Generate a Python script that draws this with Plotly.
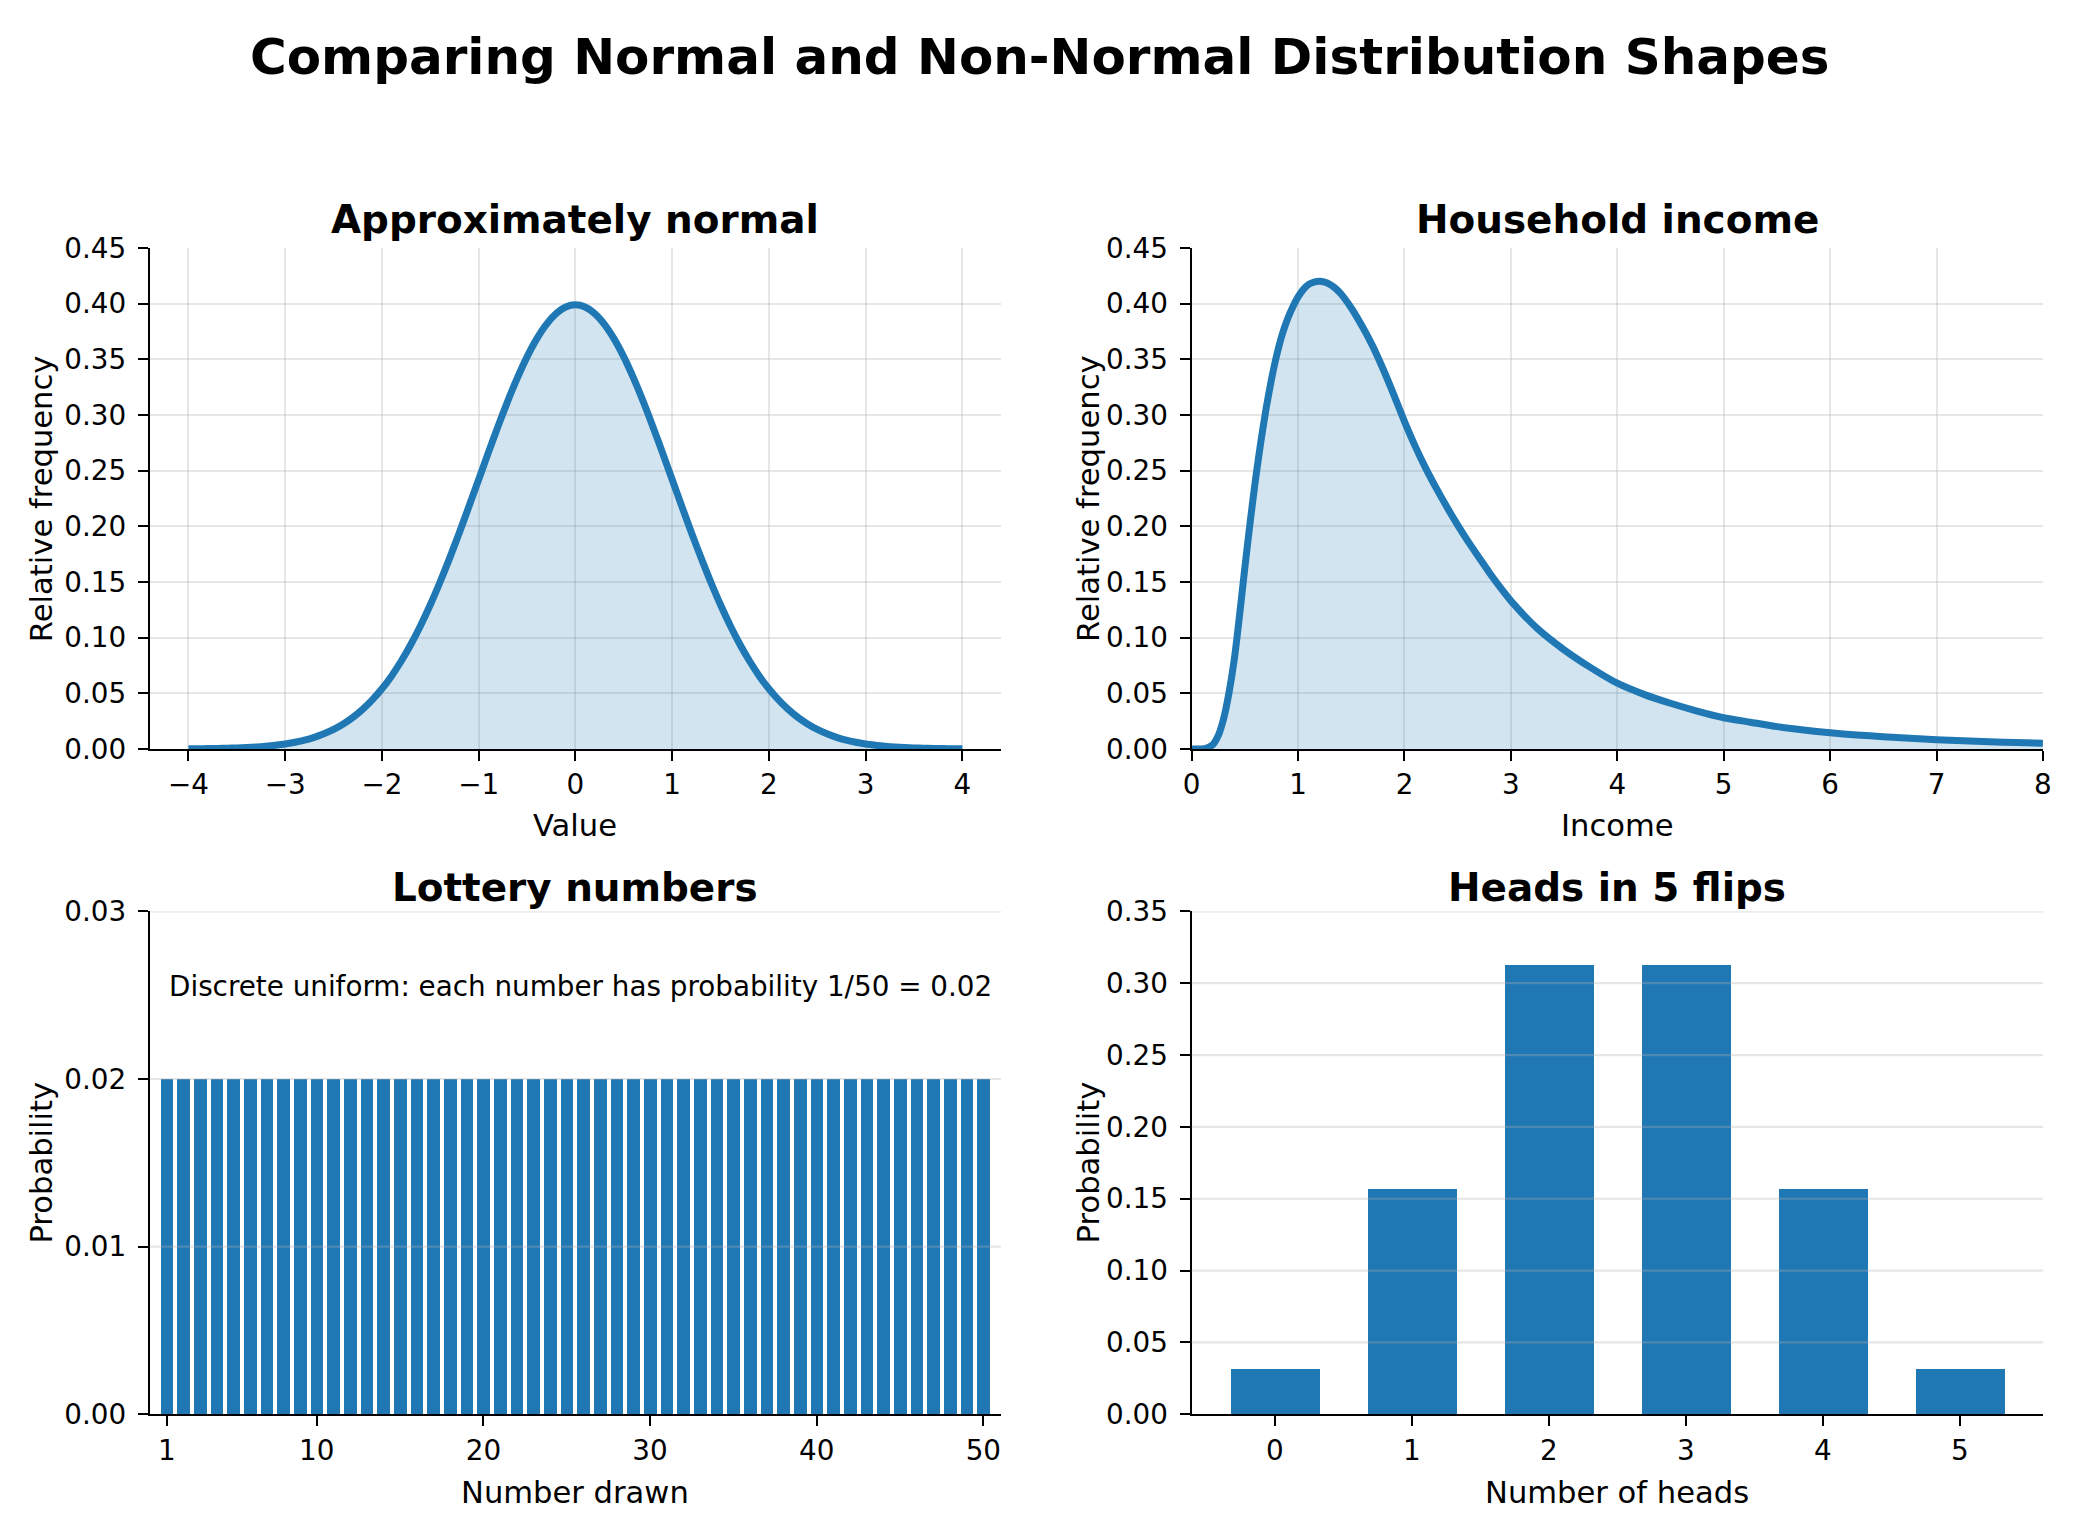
import plotly.graph_objects as go

W, H = 2079, 1537

# ---------------- data ----------------
normal_x = [-4.0, -3.9, -3.8, -3.7, -3.6, -3.5, -3.4, -3.3, -3.2, -3.1,
            -3.0, -2.9, -2.8, -2.7, -2.6, -2.5, -2.4, -2.3, -2.2, -2.1,
            -2.0, -1.9, -1.8, -1.7, -1.6, -1.5, -1.4, -1.3, -1.2, -1.1,
            -1.0, -0.9, -0.8, -0.7, -0.6, -0.5, -0.4, -0.3, -0.2, -0.1,
            0.0, 0.1, 0.2, 0.3, 0.4, 0.5, 0.6, 0.7, 0.8, 0.9,
            1.0, 1.1, 1.2, 1.3, 1.4, 1.5, 1.6, 1.7, 1.8, 1.9,
            2.0, 2.1, 2.2, 2.3, 2.4, 2.5, 2.6, 2.7, 2.8, 2.9,
            3.0, 3.1, 3.2, 3.3, 3.4, 3.5, 3.6, 3.7, 3.8, 3.9, 4.0]
normal_y = [0.0001, 0.0002, 0.0003, 0.0004, 0.0006, 0.0009, 0.0012, 0.0017, 0.0024, 0.0033,
            0.0044, 0.0060, 0.0079, 0.0104, 0.0136, 0.0175, 0.0224, 0.0283, 0.0355, 0.0440,
            0.0540, 0.0656, 0.0790, 0.0940, 0.1109, 0.1295, 0.1497, 0.1714, 0.1942, 0.2179,
            0.2420, 0.2661, 0.2897, 0.3123, 0.3332, 0.3521, 0.3683, 0.3814, 0.3910, 0.3970,
            0.3989, 0.3970, 0.3910, 0.3814, 0.3683, 0.3521, 0.3332, 0.3123, 0.2897, 0.2661,
            0.2420, 0.2179, 0.1942, 0.1714, 0.1497, 0.1295, 0.1109, 0.0940, 0.0790, 0.0656,
            0.0540, 0.0440, 0.0355, 0.0283, 0.0224, 0.0175, 0.0136, 0.0104, 0.0079, 0.0060,
            0.0044, 0.0033, 0.0024, 0.0017, 0.0012, 0.0009, 0.0006, 0.0004, 0.0003, 0.0002, 0.0001]

income_x = [0.0, 0.05, 0.1, 0.15, 0.2, 0.25, 0.3, 0.35, 0.4, 0.45, 0.5, 0.55, 0.6, 0.65,
            0.7, 0.75, 0.8, 0.85, 0.9, 0.95, 1.0, 1.05, 1.1, 1.15, 1.2, 1.25, 1.3, 1.35,
            1.4, 1.5, 1.6, 1.7, 1.8, 1.9, 2.0, 2.1, 2.2, 2.3, 2.4, 2.5, 2.6, 2.7, 2.8,
            2.9, 3.0, 3.25, 3.5, 3.75, 4.0, 4.25, 4.5, 4.75, 5.0, 5.25, 5.5, 5.75, 6.0,
            6.25, 6.5, 6.75, 7.0, 7.25, 7.5, 7.75, 8.0]
income_y = [0.000, 0.000, 0.000, 0.001, 0.004, 0.012, 0.027, 0.050, 0.080, 0.120, 0.163,
            0.204, 0.242, 0.276, 0.306, 0.332, 0.354, 0.372, 0.386, 0.397, 0.406, 0.4128,
            0.4172, 0.4193, 0.420, 0.4193, 0.4172, 0.4138, 0.409, 0.396, 0.380, 0.362, 0.341,
            0.318, 0.294, 0.272, 0.252, 0.234, 0.217, 0.201, 0.186, 0.172, 0.158, 0.145,
            0.133, 0.108, 0.089, 0.073, 0.059, 0.049, 0.041, 0.034, 0.028, 0.024, 0.020,
            0.017, 0.0145, 0.0125, 0.011, 0.0095, 0.0083, 0.0073, 0.0064, 0.0057, 0.0050]

lottery_numbers = [1, 2, 3, 4, 5, 6, 7, 8, 9, 10, 11, 12, 13, 14, 15, 16, 17, 18, 19, 20,
                   21, 22, 23, 24, 25, 26, 27, 28, 29, 30, 31, 32, 33, 34, 35, 36, 37, 38,
                   39, 40, 41, 42, 43, 44, 45, 46, 47, 48, 49, 50]
lottery_prob = [0.02, 0.02, 0.02, 0.02, 0.02, 0.02, 0.02, 0.02, 0.02, 0.02,
                0.02, 0.02, 0.02, 0.02, 0.02, 0.02, 0.02, 0.02, 0.02, 0.02,
                0.02, 0.02, 0.02, 0.02, 0.02, 0.02, 0.02, 0.02, 0.02, 0.02,
                0.02, 0.02, 0.02, 0.02, 0.02, 0.02, 0.02, 0.02, 0.02, 0.02,
                0.02, 0.02, 0.02, 0.02, 0.02, 0.02, 0.02, 0.02, 0.02, 0.02]

heads = [0, 1, 2, 3, 4, 5]
heads_prob = [0.03125, 0.15625, 0.3125, 0.3125, 0.15625, 0.03125]

# tick labels
normal_ticks = [-4, -3, -2, -1, 0, 1, 2, 3, 4]
normal_ticktext = ["\u22124", "\u22123", "\u22122", "\u22121", "0", "1", "2", "3", "4"]
income_ticks = [0, 1, 2, 3, 4, 5, 6, 7, 8]
density_yticks = [0.0, 0.05, 0.10, 0.15, 0.20, 0.25, 0.30, 0.35, 0.40, 0.45]
lottery_xticks = [1, 10, 20, 30, 40, 50]
lottery_yticks = [0.0, 0.01, 0.02, 0.03]
heads_yticks = [0.0, 0.05, 0.10, 0.15, 0.20, 0.25, 0.30, 0.35]

main_title = "Comparing Normal and Non-Normal Distribution Shapes"
titles = ["Approximately normal", "Household income", "Lottery numbers", "Heads in 5 flips"]
xlabels = ["Value", "Income", "Number drawn", "Number of heads"]
ylabels = ["Relative frequency", "Relative frequency", "Probability", "Probability"]
note_text = "Discrete uniform: each number has probability 1/50 = 0.02"

# ---------------- styling ----------------
BLUE = "#1f77b4"
FILL = "rgba(31,119,180,0.2)"
GRID = "rgba(176,176,176,0.32)"
FONT = "DejaVu Sans"
TICK = 27.8
LAB = 30.6
TTL = 38.9


def px_x(p):
    return p / W


def px_y(p):
    return 1 - p / H


XL = [px_x(142), px_x(1000.7)]
XR = [px_x(1193), px_x(2051.7)]
YT = [px_y(749), px_y(237)]
YB = [px_y(1429), px_y(915)]

fig = go.Figure()

fig.add_trace(go.Scatter(x=normal_x, y=normal_y, mode="lines", fill="tozeroy",
                         fillcolor=FILL, line=dict(color=BLUE, width=7, shape="spline", smoothing=0.6),
                         xaxis="x", yaxis="y", showlegend=False, hoverinfo="skip"))
fig.add_trace(go.Scatter(x=income_x, y=income_y, mode="lines", fill="tozeroy",
                         fillcolor=FILL, line=dict(color=BLUE, width=7, shape="spline", smoothing=0.6),
                         xaxis="x2", yaxis="y2", showlegend=False, hoverinfo="skip"))
fig.add_trace(go.Bar(x=lottery_numbers, y=lottery_prob, width=0.76, marker=dict(color=BLUE, line=dict(width=0)),
                     xaxis="x3", yaxis="y3", showlegend=False, hoverinfo="skip"))
fig.add_trace(go.Bar(x=heads, y=heads_prob, width=0.65, marker=dict(color=BLUE, line=dict(width=0)),
                     xaxis="x4", yaxis="y4", showlegend=False, hoverinfo="skip"))


def axis(domain, rng, anchor, grid, tickvals=None, ticktext=None, standoff=0):
    d = dict(domain=domain, range=rng, anchor=anchor, showline=True, linecolor="black",
             linewidth=2.2, ticks="outside", ticklen=10, tickwidth=2.2, tickcolor="black",
             tickfont=dict(family=FONT, size=TICK, color="black"), zeroline=False,
             showgrid=grid, gridcolor=GRID, gridwidth=2.2, ticklabelstandoff=standoff,
             fixedrange=True)
    if tickvals is not None:
        d["tickmode"] = "array"
        d["tickvals"] = tickvals
        d["ticktext"] = ticktext if ticktext is not None else [str(v) for v in tickvals]
    return d


layout = dict(
    width=W, height=H, margin=dict(l=0, r=0, t=0, b=0),
    paper_bgcolor="white", plot_bgcolor="white", bargap=0,
    font=dict(family=FONT, color="black"),
    xaxis=axis(XL, [-4.4, 4.4], "y", True, normal_ticks, normal_ticktext),
    yaxis=axis(YT, [0, 0.45], "x", True, density_yticks,
               ["%.2f" % v for v in density_yticks], 6),
    xaxis2=axis(XR, [0, 8], "y2", True, income_ticks),
    yaxis2=axis(YT, [0, 0.45], "x2", True, density_yticks,
                ["%.2f" % v for v in density_yticks], 6),
    xaxis3=axis(XL, [-0.02, 51.06], "y3", False, lottery_xticks),
    yaxis3=axis(YB, [0, 0.03], "x3", False, lottery_yticks,
                ["%.2f" % v for v in lottery_yticks], 6),
    xaxis4=axis(XR, [-0.6075, 5.6075], "y4", False, heads),
    yaxis4=axis(YB, [0, 0.35], "x4", False, heads_yticks,
                ["%.2f" % v for v in heads_yticks], 6),
)
fig.update_layout(**layout)

# grid lines above bars (matplotlib draws grid above patches)
shapes = []
for v in lottery_yticks[1:]:
    shapes.append(dict(type="line", xref="x3 domain", yref="y3", x0=0, x1=1, y0=v, y1=v,
                       line=dict(color=GRID, width=2.2), layer="above"))
for v in heads_yticks[1:]:
    shapes.append(dict(type="line", xref="x4 domain", yref="y4", x0=0, x1=1, y0=v, y1=v,
                       line=dict(color=GRID, width=2.2), layer="above"))
fig.update_layout(shapes=shapes)

ann = []
ann.append(dict(text="<b>%s</b>" % main_title, x=0.5, y=px_y(42), xref="paper", yref="paper",
                xanchor="center", yanchor="middle", showarrow=False,
                font=dict(family=FONT, size=50, color="black")))
cx = [px_x(571.3), px_x(1622.3), px_x(571.3), px_x(1622.3)]
ty = [px_y(208), px_y(208), px_y(891), px_y(891)]
lx_y = [px_y(827), px_y(827), px_y(1509), px_y(1509)]
ly_x = [px_x(33), px_x(1089), px_x(33), px_x(1089)]
ly_y = [(YT[0] + YT[1]) / 2, (YT[0] + YT[1]) / 2, (YB[0] + YB[1]) / 2, (YB[0] + YB[1]) / 2]
for i in range(4):
    ann.append(dict(text="<b>%s</b>" % titles[i], x=cx[i], y=ty[i], xref="paper", yref="paper",
                    xanchor="center", yanchor="middle", showarrow=False,
                    font=dict(family=FONT, size=TTL, color="black")))
    ann.append(dict(text=xlabels[i], x=cx[i], y=lx_y[i], xref="paper", yref="paper",
                    xanchor="center", yanchor="middle", showarrow=False,
                    font=dict(family=FONT, size=LAB, color="black")))
    ann.append(dict(text=ylabels[i], x=ly_x[i], y=ly_y[i], xref="paper", yref="paper",
                    xanchor="center", yanchor="middle", textangle=-90, showarrow=False,
                    font=dict(family=FONT, size=LAB, color="black")))
ann.append(dict(text=note_text, x=0.02, y=0.85, xref="x3 domain", yref="y3 domain",
                xanchor="left", yanchor="middle", showarrow=False,
                font=dict(family=FONT, size=TICK, color="black")))
fig.update_layout(annotations=ann)

fig.write_html("out.html", config={"displayModeBar": False},
               post_script="document.body.style.margin='0px';")
